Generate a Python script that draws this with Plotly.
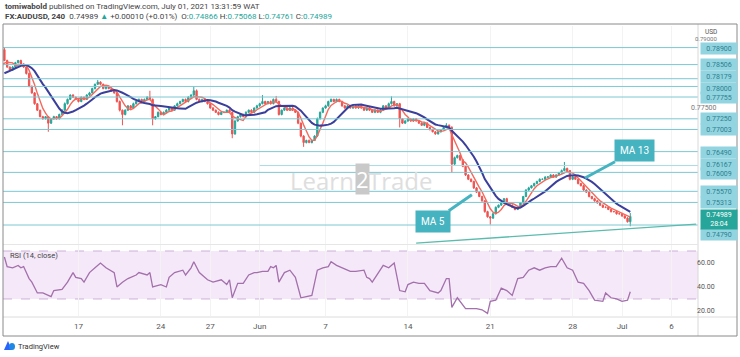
import plotly.graph_objects as go
import pandas as pd

W, H = 740, 357

# ---------------- data ----------------
# closes in 1e-5 units; 12 bars before the visible window (needed for the MAs)
pre_close_pts = [78000, 78050, 78120, 78150, 78180, 78220, 78250, 78300, 78350, 78400, 78500, 78850]
pre_open_pts = 77950
close_pts = [
    78600, 78450, 78380, 78450, 78550, 78600, 78520, 78450, 78300, 78000,
    77850, 77600, 77450, 77300, 77250, 77300, 77150, 77250, 77300, 77250,
    77350, 77450, 77600, 77700, 77800, 77750, 77700, 77650, 77750, 77700,
    77800, 77850, 77950, 78050, 78100, 78050, 77950, 78000, 77950, 77900,
    77850, 77650, 77450, 77350, 77450, 77550, 77500, 77600, 77650, 77700,
    77650, 77700, 77750, 77700, 77250, 77300, 77400, 77350, 77400, 77450,
    77500, 77450, 77550, 77600, 77650, 77700, 77650, 77750, 77800, 77900,
    77700, 77650, 77700, 77650, 77600, 77500, 77450, 77400, 77350, 77400,
    77400, 77450, 77400, 76900, 77200, 77300, 77350, 77300, 77400, 77450,
    77400, 77500, 77550, 77600, 77650, 77600, 77650, 77600, 77700, 77650,
    77350, 77450, 77500, 77450, 77500, 77450, 77400, 77150, 76850, 76700,
    76750, 76700, 76750, 76850, 77250, 77400, 77500, 77550, 77650, 77700,
    77650, 77700, 77650, 77550, 77500, 77550, 77500, 77550, 77500, 77550,
    77500, 77450, 77500, 77450, 77400, 77450, 77400, 77450, 77550, 77500,
    77600, 77650, 77550, 77600, 77250, 77150, 77200, 77250, 77200, 77250,
    77200, 77150, 77100, 77150, 77050, 77000, 76950, 76900, 76950, 77000,
    77050, 77100, 77050, 76200, 76350, 76400, 76300, 76150, 75950, 75850,
    75800, 75650, 75550, 75450, 75350, 75100, 74980, 74950, 75050, 75200,
    75250, 75300, 75400, 75300, 75250, 75200, 75150, 75200, 75300, 75450,
    75600, 75650, 75700, 75750, 75800, 75850, 75850, 75900, 75900, 75950,
    75900, 75950, 76000, 76050, 76100, 76050, 75850, 75900, 75850, 75750,
    75700, 75600, 75550, 75450, 75400, 75350, 75300, 75250, 75200, 75200,
    75150, 75100, 75100, 75050, 75050, 75000, 74950, 74866, 74989,
]
pre_wick_pts = [10] * 12
wick_up_pts = [
    50, 20, 15, 25, 20, 15, 20, 10, 15, 20,
    25, 20, 15, 10, 20, 15, 10, 15, 20, 15,
    20, 25, 30, 20, 15, 20, 15, 25, 20, 15,
    20, 25, 20, 15, 50, 20, 15, 20, 15, 20,
    15, 20, 25, 15, 20, 15, 20, 25, 15, 20,
    15, 20, 25, 150, 20, 15, 20, 15, 20, 25,
    15, 20, 15, 25, 20, 15, 20, 25, 20, 100,
    30, 20, 15, 20, 15, 20, 25, 15, 20, 15,
    20, 15, 25, 20, 15, 20, 15, 20, 25, 15,
    20, 15, 25, 20, 150, 20, 15, 25, 20, 80,
    20, 15, 20, 15, 25, 20, 15, 20, 15, 20,
    15, 20, 15, 20, 30, 20, 15, 25, 20, 20,
    15, 20, 15, 20, 15, 20, 15, 20, 15, 20,
    15, 20, 15, 20, 15, 20, 15, 25, 20, 15,
    25, 120, 20, 15, 20, 15, 20, 15, 20, 15,
    20, 15, 20, 15, 20, 15, 20, 15, 20, 15,
    20, 50, 20, 30, 25, 20, 20, 15, 20, 15,
    20, 15, 20, 15, 20, 15, 20, 15, 25, 20,
    15, 20, 15, 20, 15, 20, 25, 15, 20, 15,
    20, 25, 15, 20, 15, 20, 15, 20, 25, 15,
    20, 15, 20, 25, 150, 20, 15, 20, 15, 20,
    15, 20, 15, 20, 15, 20, 15, 20, 15, 20,
    15, 20, 15, 20, 15, 20, 15, 20, 79,
]
wick_dn_pts = [
    15, 20, 15, 20, 15, 20, 15, 20, 25, 20,
    20, 25, 20, 15, 20, 15, 200, 20, 15, 20,
    15, 20, 15, 20, 15, 20, 15, 20, 15, 20,
    15, 20, 15, 20, 15, 20, 15, 20, 15, 20,
    20, 25, 30, 250, 20, 15, 20, 15, 20, 15,
    20, 15, 20, 15, 150, 20, 15, 20, 15, 20,
    15, 20, 15, 20, 15, 20, 15, 20, 15, 20,
    20, 15, 20, 15, 20, 15, 20, 15, 20, 15,
    20, 15, 20, 100, 20, 15, 20, 15, 20, 15,
    15, 20, 15, 20, 15, 20, 15, 20, 15, 20,
    25, 20, 15, 20, 15, 20, 15, 25, 30, 100,
    20, 15, 20, 15, 20, 15, 20, 15, 20, 15,
    15, 20, 15, 20, 15, 20, 15, 20, 15, 20,
    15, 20, 15, 20, 15, 20, 15, 20, 15, 20,
    15, 20, 15, 20, 200, 20, 15, 20, 15, 20,
    15, 20, 15, 20, 15, 20, 15, 20, 15, 20,
    15, 20, 15, 200, 30, 20, 25, 20, 25, 20,
    20, 25, 20, 15, 20, 25, 20, 150, 20, 15,
    20, 15, 20, 15, 20, 15, 20, 15, 20, 15,
    15, 20, 15, 20, 15, 20, 15, 20, 15, 20,
    15, 20, 15, 20, 15, 20, 25, 20, 15, 20,
    15, 20, 15, 20, 15, 20, 15, 20, 15, 20,
    15, 20, 15, 20, 15, 20, 15, 20, 105,
]

levels = [0.78900, 0.78506, 0.78179, 0.78000, 0.77755, 0.77250, 0.77003,
          0.76490, 0.76167, 0.76009, 0.75570, 0.75313, 0.74790]
ray_level = 0.76167
ray_start_bar = 93
axis_price_ticks = [0.79000, 0.77500]
last_price = 0.74989
countdown = "28:04"

tick_bars = [27, 57, 75, 93, 117, 147, 177, 207, 225, 243]
tick_labels = ["17", "24", "27", "Jun", "7", "14", "21", "28", "Jul", "6"]

rsi_bars = [0, 1, 3, 5, 6, 7, 9, 10, 12, 14, 16, 17, 18, 21, 23, 25, 26, 28, 29, 31,
            33, 35, 37, 40, 41, 43, 45, 48, 49, 52, 53, 54, 57, 59, 60, 62, 65, 66, 68, 69,
            71, 74, 76, 79, 81, 82, 83, 85, 87, 89, 91, 92, 94, 96, 97, 98, 99, 100, 102, 104,
            106, 107, 108, 110, 112, 114, 116, 118, 119, 121, 123, 126, 128, 131, 132, 133, 134, 138, 140, 142,
            144, 146, 147, 149, 151, 153, 155, 158, 159, 161, 162, 163, 165, 168, 170, 172, 174, 176, 177, 179,
            181, 183, 185, 187, 189, 191, 193, 195, 197, 199, 201, 203, 205, 207, 209, 211, 213, 215, 218, 219,
            221, 223, 225, 227, 228]
rsi_vals = [65, 57, 56, 58, 56, 57, 47, 44, 35, 35, 33, 32, 37, 38, 44, 52, 48, 47, 44, 52,
            56, 60, 56, 52, 40, 44, 47, 50, 52, 50, 52, 40, 42, 40, 48, 52, 54, 50, 56, 61,
            52, 46, 44, 46, 42, 46, 31, 43, 43, 50, 52, 52, 53, 53, 57, 56, 58, 44, 52, 54,
            48, 39, 31, 32, 33, 54, 56, 57, 61, 58, 56, 53, 53, 54, 48, 47, 44, 58, 56, 60,
            37, 36, 42, 44, 43, 43, 37, 35, 37, 47, 47, 23, 31, 22, 22, 22, 21, 18, 28, 29,
            39, 37, 33, 47, 48, 54, 56, 54, 56, 57, 57, 64, 56, 54, 44, 43, 37, 29, 28, 35,
            31, 30, 28, 29, 36]
rsi_ticks = [60, 40, 20]
trend_bars = [150, 252]
trend_prices = [0.7437, 0.7481]

# ---------------- derived ----------------
all_close = [c / 1e5 for c in pre_close_pts + close_pts]
all_up = [w / 1e5 for w in pre_wick_pts + wick_up_pts]
all_dn = [w / 1e5 for w in pre_wick_pts + wick_dn_pts]
all_open = [pre_open_pts / 1e5] + all_close[:-1]
all_high = [max(o, c) + u for o, c, u in zip(all_open, all_close, all_up)]
all_low = [min(o, c) - d for o, c, d in zip(all_open, all_close, all_dn)]
bars = list(range(-len(pre_close_pts), len(close_pts)))
s = pd.Series(all_close)
ma5 = s.rolling(5).mean()
ma13 = s.rolling(13).mean()

GREEN, RED = "#26a69a", "#ef5350"
LINE_C = "#7cc8d4"
FONT = "Roboto"


def px(x):
    return x / W


def py(y):
    return 1 - y / H


fig = go.Figure()
fig.add_trace(go.Candlestick(
    x=bars, open=all_open, high=all_high, low=all_low, close=all_close,
    increasing=dict(line=dict(color=GREEN, width=1), fillcolor=GREEN),
    decreasing=dict(line=dict(color=RED, width=1), fillcolor=RED),
    whiskerwidth=0, hoverinfo="skip", showlegend=False, xaxis="x", yaxis="y"))
fig.add_trace(go.Scatter(x=bars, y=ma5, mode="lines", line=dict(color="#f4695c", width=1.4),
                         hoverinfo="skip", showlegend=False, xaxis="x", yaxis="y"))
fig.add_trace(go.Scatter(x=bars, y=ma13, mode="lines", line=dict(color="#3b3f9c", width=2),
                         hoverinfo="skip", showlegend=False, xaxis="x", yaxis="y"))
fig.add_trace(go.Scatter(x=rsi_bars, y=rsi_vals, mode="lines", line=dict(color="#a370ab", width=1.3),
                         hoverinfo="skip", showlegend=False, xaxis="x2", yaxis="y2"))

XR = [-0.51, 252.67]
XD = [px(3), px(698)]
shapes = []
# RSI band
shapes.append(dict(type="rect", xref="paper", yref="y2", x0=XD[0], x1=XD[1], y0=30, y1=70,
                   fillcolor="#f5e8f9", line=dict(width=0), layer="below"))
for lv in (30, 70):
    shapes.append(dict(type="line", xref="paper", yref="y2", x0=XD[0], x1=XD[1], y0=lv, y1=lv,
                       line=dict(color="#cdb0d8", width=1, dash="dash"), layer="below"))
# horizontal levels
for lv in levels:
    if lv == ray_level:
        shapes.append(dict(type="line", xref="x", yref="y", x0=ray_start_bar, x1=XR[1], y0=lv, y1=lv,
                           line=dict(color="#a9dbe3", width=1)))
    else:
        shapes.append(dict(type="line", xref="paper", yref="y", x0=XD[0], x1=XD[1], y0=lv, y1=lv,
                           line=dict(color=LINE_C, width=1)))
# trend line
shapes.append(dict(type="line", xref="x", yref="y", x0=trend_bars[0], x1=trend_bars[1],
                   y0=trend_prices[0], y1=trend_prices[1], line=dict(color="#5bbcae", width=1.4)))
# separators and frame
shapes.append(dict(type="line", xref="paper", yref="paper", x0=px(698), x1=px(698), y0=py(336), y1=py(24),
                   line=dict(color="#d8d8d8", width=1)))
shapes.append(dict(type="line", xref="paper", yref="paper", x0=px(3), x1=px(737), y0=py(317), y1=py(317),
                   line=dict(color="#dcdcdc", width=1)))
shapes.append(dict(type="line", xref="paper", yref="paper", x0=px(3), x1=px(698), y0=py(244.5), y1=py(244.5),
                   line=dict(color="#e6e6e6", width=1)))
shapes.append(dict(type="rect", xref="paper", yref="paper", x0=px(3), x1=px(737), y0=py(336), y1=py(24),
                   line=dict(color="#8a8a8a", width=1)))
# TradingView logo mark
shapes.append(dict(type="path", xref="paper", yref="paper",
                   path=f"M {px(4)} {py(350)} L {px(8)} {py(341)} L {px(12)} {py(350)} Z",
                   fillcolor="#2962ff", line=dict(width=0)))
shapes.append(dict(type="circle", xref="paper", yref="paper", x0=px(9), x1=px(15), y0=py(350), y1=py(343),
                   fillcolor="#1e88e5", line=dict(width=0)))

ann = []
hdr_font = dict(family=FONT, size=8, color="#444")
ann.append(dict(x=px(3), y=py(6), xref="paper", yref="paper", xanchor="left", yanchor="middle", showarrow=False,
                text="<b>tomiwabold</b> published on TradingView.com, July 01, 2021 13:31:59 WAT", font=hdr_font))
tv = "<span style='color:#26a69a'>%s</span>"
ann.append(dict(x=px(3), y=py(16.5), xref="paper", yref="paper", xanchor="left", yanchor="middle", showarrow=False,
                text="<b>FX:AUDUSD, 240</b>  0.74989 " + tv % "▲" + " +0.00010 (+0.01%)  O:" + tv % "0.74866"
                     + " H:" + tv % "0.75068" + " L:" + tv % "0.74761" + " C:" + tv % "0.74989",
                font=hdr_font))
# watermark
wm = dict(family="Open Sans", size=24, color="#dedede")
ann.append(dict(x=px(356), y=py(180), xref="paper", yref="paper", xanchor="right", yanchor="middle",
                showarrow=False, text="Learn", font=wm))
ann.append(dict(x=px(362), y=py(179), xref="paper", yref="paper", xanchor="center", yanchor="middle",
                showarrow=False, text="2", font=dict(family="Open Sans", size=22, color="#ffffff"),
                bgcolor="#c9c9c9", borderpad=0))
ann.append(dict(x=px(366), y=py(180), xref="paper", yref="paper", xanchor="left", yanchor="middle",
                showarrow=False, text="Trade", font=wm))
# axis texts
ann.append(dict(x=px(718), y=py(27.5), xref="paper", yref="paper", showarrow=False, text="USD",
                font=dict(family=FONT, size=6.5, color="#555"), borderpad=0))
for p in axis_price_ticks:
    top = p == 0.79
    ann.append(dict(x=px(718), y=p, xref="paper", yref="y", showarrow=False, text=f"{p:.5f}",
                    yshift=5 if top else 0, borderpad=0,
                    font=dict(family=FONT, size=6 if top else 7, color="#777")))
yshifts = {0.78179: 2, 0.78000: -2, 0.76490: -1, 0.76167: 1, 0.76009: -1, 0.74790: -9}
for lv in levels:
    ann.append(dict(x=px(699.5), y=lv, xref="paper", yref="y", xanchor="left", yanchor="middle",
                    showarrow=False, text=f"{lv:.5f}", width=34, height=9, borderpad=1,
                    bgcolor="#92d4df", font=dict(family=FONT, size=7, color="#2d7f90"),
                    yshift=yshifts.get(lv, 0) - (1 if lv == 0.789 else 0)))
ann.append(dict(x=px(699.5), y=last_price, xref="paper", yref="y", xanchor="left", yanchor="middle",
                showarrow=False, text=f"{last_price:.5f}<br>{countdown}", width=34, height=17, borderpad=1,
                bgcolor=GREEN, font=dict(family=FONT, size=7, color="white"), yshift=-3))
for t in rsi_ticks:
    ann.append(dict(x=px(717), y=t, xref="paper", yref="y2", showarrow=False, text=f"{t:.2f}",
                    font=dict(family=FONT, size=7, color="#555")))
ann.append(dict(x=px(8), y=py(255), xref="paper", yref="paper", xanchor="left", yanchor="middle",
                showarrow=False, text="RSI (14, close)", font=dict(family=FONT, size=7.5, color="#444")))
# callouts
call = dict(family=FONT, size=10, color="white")
ann.append(dict(x=211.5, y=0.7588, xref="x", yref="y", ax=50, ay=-27, text="MA 13", showarrow=True,
                arrowhead=0, arrowwidth=3, arrowcolor="#45b3c0", bgcolor="#45b3c0", borderpad=5,
                font=call, standoff=0))
ann.append(dict(x=170.3, y=0.7549, xref="x", yref="y", ax=-39, ay=27, text="MA 5", showarrow=True,
                arrowhead=0, arrowwidth=3, arrowcolor="#45b3c0", bgcolor="#45b3c0", borderpad=5,
                font=call, standoff=0))
# footer
ann.append(dict(x=px(16), y=py(346), xref="paper", yref="paper", xanchor="left", yanchor="middle",
                showarrow=False, text="TradingView", font=dict(family=FONT, size=7.5, color="#333")))

fig.update_layout(
    width=W, height=H, margin=dict(l=0, r=0, t=0, b=0),
    paper_bgcolor="white", plot_bgcolor="white", showlegend=False,
    shapes=shapes, annotations=ann,
    xaxis=dict(domain=XD, range=XR, rangeslider=dict(visible=False), tickvals=tick_bars,
               showticklabels=False, showgrid=True, gridcolor="#f3f3f3", zeroline=False, fixedrange=True),
    yaxis=dict(domain=[py(244), py(26)], range=[0.7435, 0.7940], showticklabels=False, showgrid=False,
               zeroline=False),
    xaxis2=dict(domain=XD, range=XR, anchor="y2", matches="x", tickvals=tick_bars, ticktext=tick_labels,
                showgrid=True, gridcolor="#f3f3f3", zeroline=False, ticks="", ticklabelstandoff=4,
                tickfont=dict(family=FONT, size=8, color="#555")),
    yaxis2=dict(domain=[py(316), py(245)], range=[15.8, 75], anchor="x2", showticklabels=False,
                showgrid=False, zeroline=False),
)
fig.write_html("out.html", config={"displayModeBar": False},
               post_script="document.body.style.margin='0px';")
